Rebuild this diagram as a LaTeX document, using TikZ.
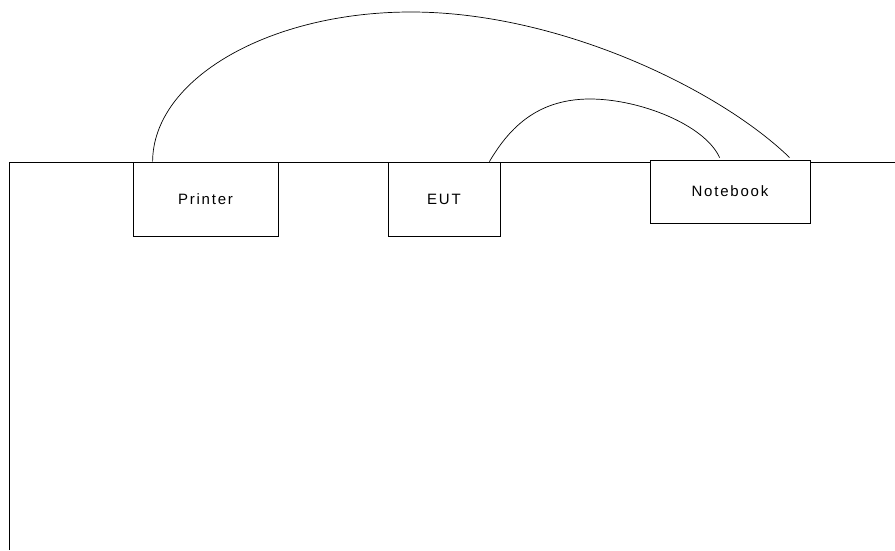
\documentclass[tikz,border=0pt]{standalone}
\usepackage{fontspec}
\newfontfamily\labfont[LetterSpace=12]{Liberation Sans}
\begin{document}
\begin{tikzpicture}[x=1pt,y=-1pt,
  line width=0.8pt,
  device/.style={draw,inner sep=0pt,font=\labfont\fontsize{15}{18}\selectfont,fill=white},
  cable/.style={draw,line width=0.7pt}]
\useasboundingbox (0,0) rectangle (895,550);
% table edge
\coordinate (tl) at (9,162);
\coordinate (tr) at (895,162);
\coordinate (bl) at (9,550);
\draw (bl) -- (tl) -- (tr);
% devices
\node[device,minimum width=145pt,minimum height=74pt] (P) at (205.5,199) {Printer};
\node[device,minimum width=112pt,minimum height=74pt] (E) at (444,199) {EUT};
\node[device,minimum width=160pt,minimum height=63pt] (N) at (730,191.5) {Notebook};
% cable end points
\coordinate (p1) at ([xshift=20pt]P.north west);
\coordinate (e1) at ([xshift=-11pt]E.north east);
\coordinate (n1) at ([xshift=70pt,yshift=2pt]N.north west);
\coordinate (n2) at ([xshift=140pt,yshift=2pt]N.north west);
\coordinate (top1) at (411,12);
\coordinate (top2) at (590,99);
% cables
\draw[cable] (p1) .. controls (153,79) and (269,12) .. (top1)
  .. controls (560,12) and (720,90) .. (n2);
\draw[cable] (e1) .. controls (507,132) and (534,99) .. (top2)
  .. controls (640,99) and (705,125) .. (n1);
\end{tikzpicture}
\end{document}
